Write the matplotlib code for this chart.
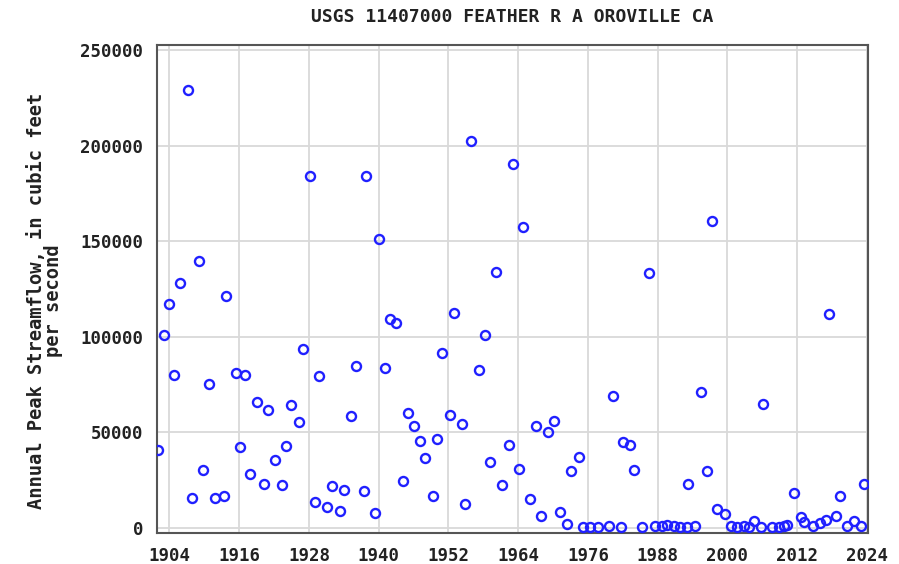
import matplotlib
matplotlib.use("Agg")
import matplotlib.pyplot as plt

# peak dates (decimal years) and annual peak streamflow (cfs)
years = [1902.1, 1903.1, 1904.0, 1904.7, 1905.8, 1907.2, 1907.85, 1909.0, 1909.75, 1910.8,
         1911.9, 1913.3, 1913.8, 1915.4, 1916.2, 1917.0, 1917.9, 1919.0, 1920.2, 1920.9,
         1922.2, 1923.35, 1924.0, 1924.9, 1926.3, 1927.0, 1928.1, 1929.1, 1929.8, 1931.1,
         1932.0, 1933.3, 1934.0, 1935.2, 1936.1, 1937.4, 1937.9, 1939.3, 1940.0, 1941.0,
         1942.0, 1942.9, 1944.2, 1945.1, 1946.0, 1947.15, 1948.0, 1949.3, 1950.1, 1950.9,
         1952.2, 1953.0, 1954.3, 1954.9, 1955.9, 1957.2, 1958.3, 1959.1, 1960.1, 1961.3,
         1962.35, 1963.1, 1964.2, 1964.9, 1966.0, 1967.06, 1967.9, 1969.2, 1970.2, 1971.25,
         1972.4, 1973.1, 1974.5, 1975.15, 1976.4, 1977.8, 1979.6, 1980.3, 1981.7, 1982.1,
         1983.2, 1984.0, 1985.3, 1986.45, 1987.6, 1988.75, 1989.6, 1990.75, 1991.9, 1993.05,
         1993.3, 1994.5, 1995.5, 1996.5, 1997.35, 1998.2, 1999.5, 2000.6, 2001.7, 2002.9,
         2003.65, 2004.5, 2005.7, 2006.2, 2007.7, 2008.85, 2009.7, 2010.3, 2011.5, 2012.6,
         2013.1, 2014.7, 2016.0, 2017.0, 2017.4, 2018.6, 2019.4, 2020.6, 2021.7, 2022.9,
         2023.45]
peaks = [40600, 101000, 117200, 80100, 128100, 229100, 15700, 139900, 30100, 75300,
         15700, 16500, 121400, 81000, 42300, 80100, 28000, 65700, 23200, 61800,
         35700, 22300, 42700, 64100, 55200, 93700, 184200, 13400, 79300, 11000,
         22100, 8700, 19900, 58500, 85000, 19100, 184200, 7800, 151100, 83600,
         109300, 107500, 24700, 60100, 53600, 45500, 36600, 16500, 46500, 91500,
         59200, 112400, 54500, 12700, 202600, 82800, 101000, 34300, 134100, 22300,
         43200, 190400, 31000, 157300, 15200, 53100, 6100, 50300, 56200, 8200,
         2200, 29600, 37400, 500, 500, 500, 1200, 69200, 500, 45000,
         43200, 30100, 500, 133600, 1200, 1200, 1700, 900, 500, 500,
         23200, 1200, 71400, 29600, 160600, 10200, 7500, 1200, 500, 900,
         500, 3500, 500, 65000, 500, 500, 1200, 1700, 18300, 5700,
         2900, 1200, 2600, 4300, 111900, 6100, 16500, 1200, 3500, 1200,
         23200]

xticks = list(range(1904, 2025, 12))
yticks = [0, 50000, 100000, 150000, 200000, 250000]

font = "DejaVu Sans Mono"

fig = plt.figure(figsize=(8.99, 5.64), dpi=100)
ax = fig.add_axes([0.1746, 0.055, 0.791, 0.865])

ax.plot(years, peaks, linestyle="none", marker="o", markersize=6.5,
        markerfacecolor="none", markeredgecolor="#2020ff", markeredgewidth=1.7, zorder=3)

ax.set_xlim(1901.85, 2024.2)
ax.set_ylim(-2600, 252600)
ax.set_xticks(xticks)
ax.set_yticks(yticks)
ax.grid(True, color="#d9d9d9", linewidth=1.3)
ax.set_axisbelow(True)
ax.tick_params(length=0, pad=10)
for lab in ax.get_xticklabels() + ax.get_yticklabels():
    lab.set_fontfamily(font)
    lab.set_fontweight("bold")
    lab.set_fontsize(12.5)
    lab.set_color("#222222")
for s in ax.spines.values():
    s.set_color("#555555")
    s.set_linewidth(1.5)

ax.set_title("USGS 11407000 FEATHER R A OROVILLE CA", family=font, fontweight="bold",
             fontsize=13, pad=17, color="#222222")
ax.set_ylabel("Annual Peak Streamflow, in cubic feet\nper second", family=font,
              fontweight="bold", fontsize=13.5, labelpad=12, color="#222222",
              linespacing=0.9, y=0.475)

fig.savefig("out.png", dpi=100)
